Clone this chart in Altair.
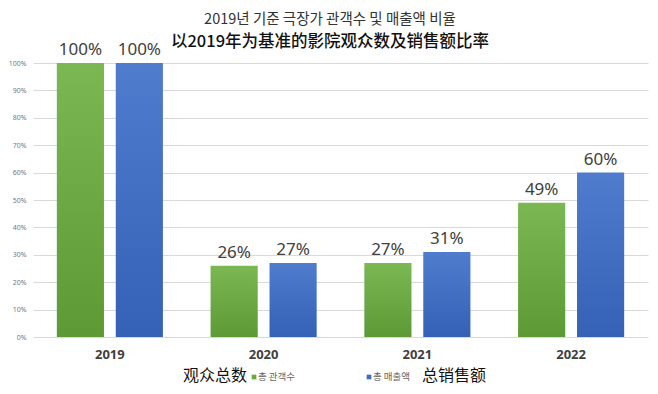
import altair as alt
import pandas as pd

years = ["2019", "2020", "2021", "2022"]
series_names = ["총 관객수", "총 매출액"]
audience = [1.00, 0.26, 0.27, 0.49]
revenue = [1.00, 0.27, 0.31, 0.60]
y_ticks = [0, 0.1, 0.2, 0.3, 0.4, 0.5, 0.6, 0.7, 0.8, 0.9, 1.0]

title_ko = "2019년 기준 극장가 관객수 및 매출액 비율"
title_zh = "以2019年为基准的影院观众数及销售额比率"
legend_zh_left = "观众总数"
legend_zh_right = "总销售额"

rows = []
for i, y in enumerate(years):
    rows.append({"year": y, "series": series_names[0], "value": audience[i]})
    rows.append({"year": y, "series": series_names[1], "value": revenue[i]})
df = pd.DataFrame(rows)

W, H = 615, 274
NUM_FONT = "Noto Sans"

green_grad = alt.LinearGradient(
    gradient="linear",
    stops=[alt.GradientStop(color="#7bb753", offset=0),
           alt.GradientStop(color="#5d9a35", offset=1)],
    x1=0, x2=0, y1=0, y2=1,
)
blue_grad = alt.LinearGradient(
    gradient="linear",
    stops=[alt.GradientStop(color="#4f7ccd", offset=0),
           alt.GradientStop(color="#3561b6", offset=1)],
    x1=0, x2=0, y1=0, y2=1,
)

x_enc = alt.X(
    "year:N",
    sort=years,
    scale=alt.Scale(paddingInner=0.31, paddingOuter=0.155),
    axis=alt.Axis(
        title=None, labelAngle=0, labelFont=NUM_FONT, labelFontSize=13,
        labelFontWeight="bold", labelColor="#404040", labelPadding=11,
        ticks=False, domain=False, grid=False,
    ),
)
xoff_enc = alt.XOffset(
    "series:N",
    scale=alt.Scale(domain=series_names, paddingInner=0.2, paddingOuter=0),
)
y_enc = alt.Y(
    "value:Q",
    scale=alt.Scale(domain=[0, 1], nice=False),
    axis=alt.Axis(
        title=None, values=y_ticks, format=".0%", labelFont=NUM_FONT,
        labelFontSize=7, labelColor="#777777", labelPadding=7,
        ticks=False, domain=False, gridColor="#d9d9d9", gridWidth=1,
    ),
)

base = alt.Chart(df).encode(x=x_enc, xOffset=xoff_enc, y=y_enc)

bars_green = base.transform_filter(
    alt.datum.series == series_names[0]
).mark_bar(color=green_grad)
bars_blue = base.transform_filter(
    alt.datum.series == series_names[1]
).mark_bar(color=blue_grad)

labels = base.mark_text(
    font=NUM_FONT, fontSize=17, color="#404040", baseline="alphabetic", dy=-8
).encode(text=alt.Text("value:Q", format=".0%"))

tdf = pd.DataFrame({"a": [0]})
t_ko = alt.Chart(tdf).mark_text(
    text=title_ko, font="Noto Sans CJK KR", fontSize=14.5, color="#333333",
    align="center", baseline="middle",
).encode(x=alt.value(297), y=alt.value(-43))
t_zh = alt.Chart(tdf).mark_text(
    text=title_zh, font="Noto Sans CJK SC", fontSize=16.5, fontWeight=500,
    color="#111111", align="center", baseline="middle",
).encode(x=alt.value(297), y=alt.value(-21))

LY = H + 39
leg_left = alt.Chart(tdf).mark_text(
    text=legend_zh_left, font="Noto Sans CJK SC", fontSize=16, fontWeight="normal",
    color="#111111", align="left", baseline="middle",
).encode(x=alt.value(150), y=alt.value(LY))
leg_right = alt.Chart(tdf).mark_text(
    text=legend_zh_right, font="Noto Sans CJK SC", fontSize=16, fontWeight="normal",
    color="#111111", align="left", baseline="middle",
).encode(x=alt.value(389), y=alt.value(LY))
sq_green = alt.Chart(tdf).mark_square(size=22, color="#6aa843", opacity=1).encode(
    x=alt.value(221), y=alt.value(LY + 1))
sq_blue = alt.Chart(tdf).mark_square(size=22, color="#3f6cc2", opacity=1).encode(
    x=alt.value(336), y=alt.value(LY + 1))
lab_green = alt.Chart(tdf).mark_text(
    text=series_names[0], font="Noto Sans CJK KR", fontSize=9.5, color="#666666",
    align="left", baseline="middle",
).encode(x=alt.value(225), y=alt.value(LY + 1))
lab_blue = alt.Chart(tdf).mark_text(
    text=series_names[1], font="Noto Sans CJK KR", fontSize=9.5, color="#666666",
    align="left", baseline="middle",
).encode(x=alt.value(340), y=alt.value(LY + 1))

chart = alt.layer(
    bars_green, bars_blue, labels, t_ko, t_zh,
    leg_left, leg_right, sq_green, sq_blue, lab_green, lab_blue,
).properties(
    width=W, height=H,
    padding={"left": 25, "top": 55, "right": 2, "bottom": 52},
    autosize=alt.AutoSizeParams(type="none"),
    background="white",
).configure_view(stroke=None)

chart.save("out.html", embed_options={"renderer": "svg", "actions": False})
